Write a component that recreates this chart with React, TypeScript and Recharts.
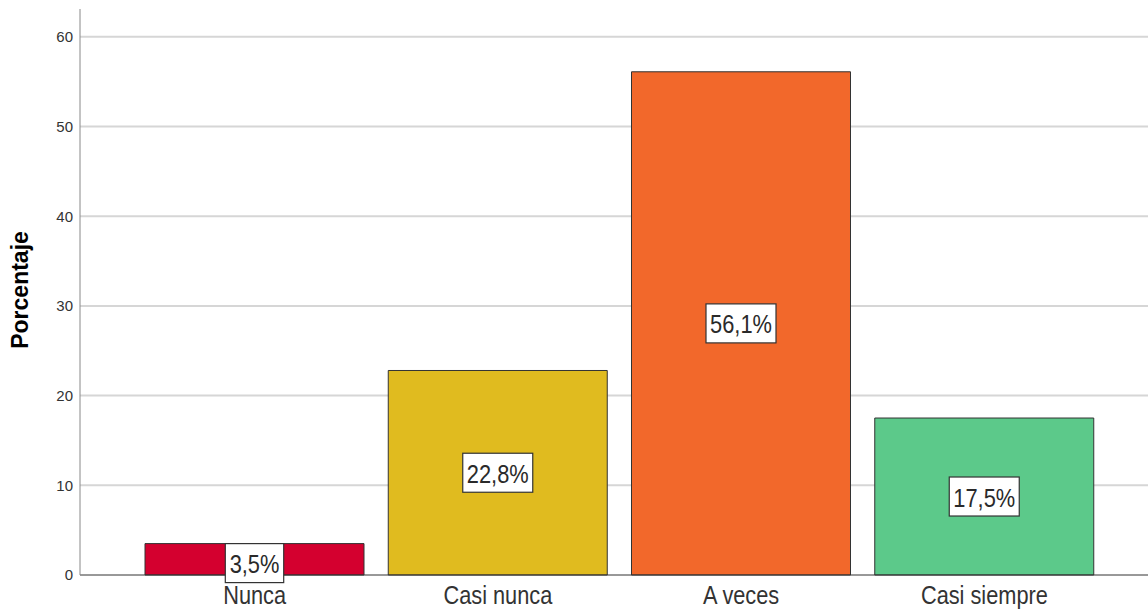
import { BarChart, Bar, XAxis, YAxis, CartesianGrid, Cell, LabelList } from 'recharts'

const categories = ['Nunca', 'Casi nunca', 'A veces', 'Casi siempre']
const porcentajes = [3.5, 22.8, 56.1, 17.5]
const etiquetas = ['3,5%', '22,8%', '56,1%', '17,5%']
const yTicks = [0, 10, 20, 30, 40, 50, 60]

const COLORS = [
  '#D4002F', // nunca
  '#E0BB1F', // casi nunca
  '#F2682B', // a veces
  '#5CC98A', // casi siempre
]

const FONT = 'Liberation Sans, Arial, sans-serif'

const chartData = categories.map((name, i) => ({
  name,
  value: porcentajes[i],
  label: etiquetas[i],
}))

// SPSS draws its text a bit squeezed horizontally
const BoxLabel = (props: any) => {
  const { x, y, width, height, index } = props
  const text = etiquetas[index]
  const boxW = text.length * 11.6 + 12
  const boxH = 39
  const cx = x + width / 2
  let top = y + height / 2 - boxH / 2
  if (height < boxH) top = y
  return (
    <g>
      <rect x={cx - boxW / 2} y={top} width={boxW} height={boxH} fill="#fff" stroke="#333" strokeWidth={1.2} />
      <text
        transform={`translate(${cx} ${top + boxH / 2 + 10}) scale(0.84 1)`}
        textAnchor="middle"
        fontSize={26}
        fontFamily={FONT}
        fill="#2a2a2a"
      >
        {text}
      </text>
    </g>
  )
}

const CategoryTick = (props: any) => {
  const { x, y, payload } = props
  return (
    <text
      transform={`translate(${x} ${y + 29}) scale(0.87 1)`}
      textAnchor="middle"
      fontSize={25}
      fontFamily={FONT}
      fill="#333"
    >
      {payload.value}
    </text>
  )
}

const YTitle = () => (
  <text
    x={22}
    y={290}
    transform="rotate(-90 22 290)"
    textAnchor="middle"
    dominantBaseline="middle"
    fontSize={23}
    fontWeight="bold"
    fontFamily={FONT}
    fill="#000"
  >
    Porcentaje
  </text>
)

const App = () => {
  return (
    <div style={{ position: 'absolute', left: 0, top: 0, width: 1148, height: 610, background: '#fff' }}>
      <BarChart
        width={1148}
        height={610}
        data={chartData}
        margin={{ top: 9, right: 0, bottom: 0, left: 0 }}
        barCategoryGap={12}
      >
        <CartesianGrid
          vertical={false}
          horizontalValues={[10, 20, 30, 40, 50, 60]}
          stroke="#d6d6d6"
          strokeWidth={2}
        />
        <XAxis
          dataKey="name"
          height={35}
          tickLine={false}
          tickSize={0}
          tickMargin={0}
          padding={{ left: 53, right: 42 }}
          axisLine={{ stroke: '#333' }}
          tick={<CategoryTick />}
        />
        <YAxis
          width={80}
          domain={[0, 63.1]}
          ticks={yTicks}
          tickLine={false}
          tickSize={5}
          tickMargin={2}
          axisLine={{ stroke: '#888' }}
          tick={{ fontSize: 15, fill: '#333', fontFamily: FONT }}
          label={<YTitle />}
        />
        <Bar dataKey="value" stroke="#333" strokeWidth={1} isAnimationActive={false}>
          {chartData.map((entry, index) => (
            <Cell key={`cell-${index}`} fill={COLORS[index % COLORS.length]} />
          ))}
          <LabelList dataKey="label" content={<BoxLabel />} />
        </Bar>
      </BarChart>
    </div>
  )
}

export default App
